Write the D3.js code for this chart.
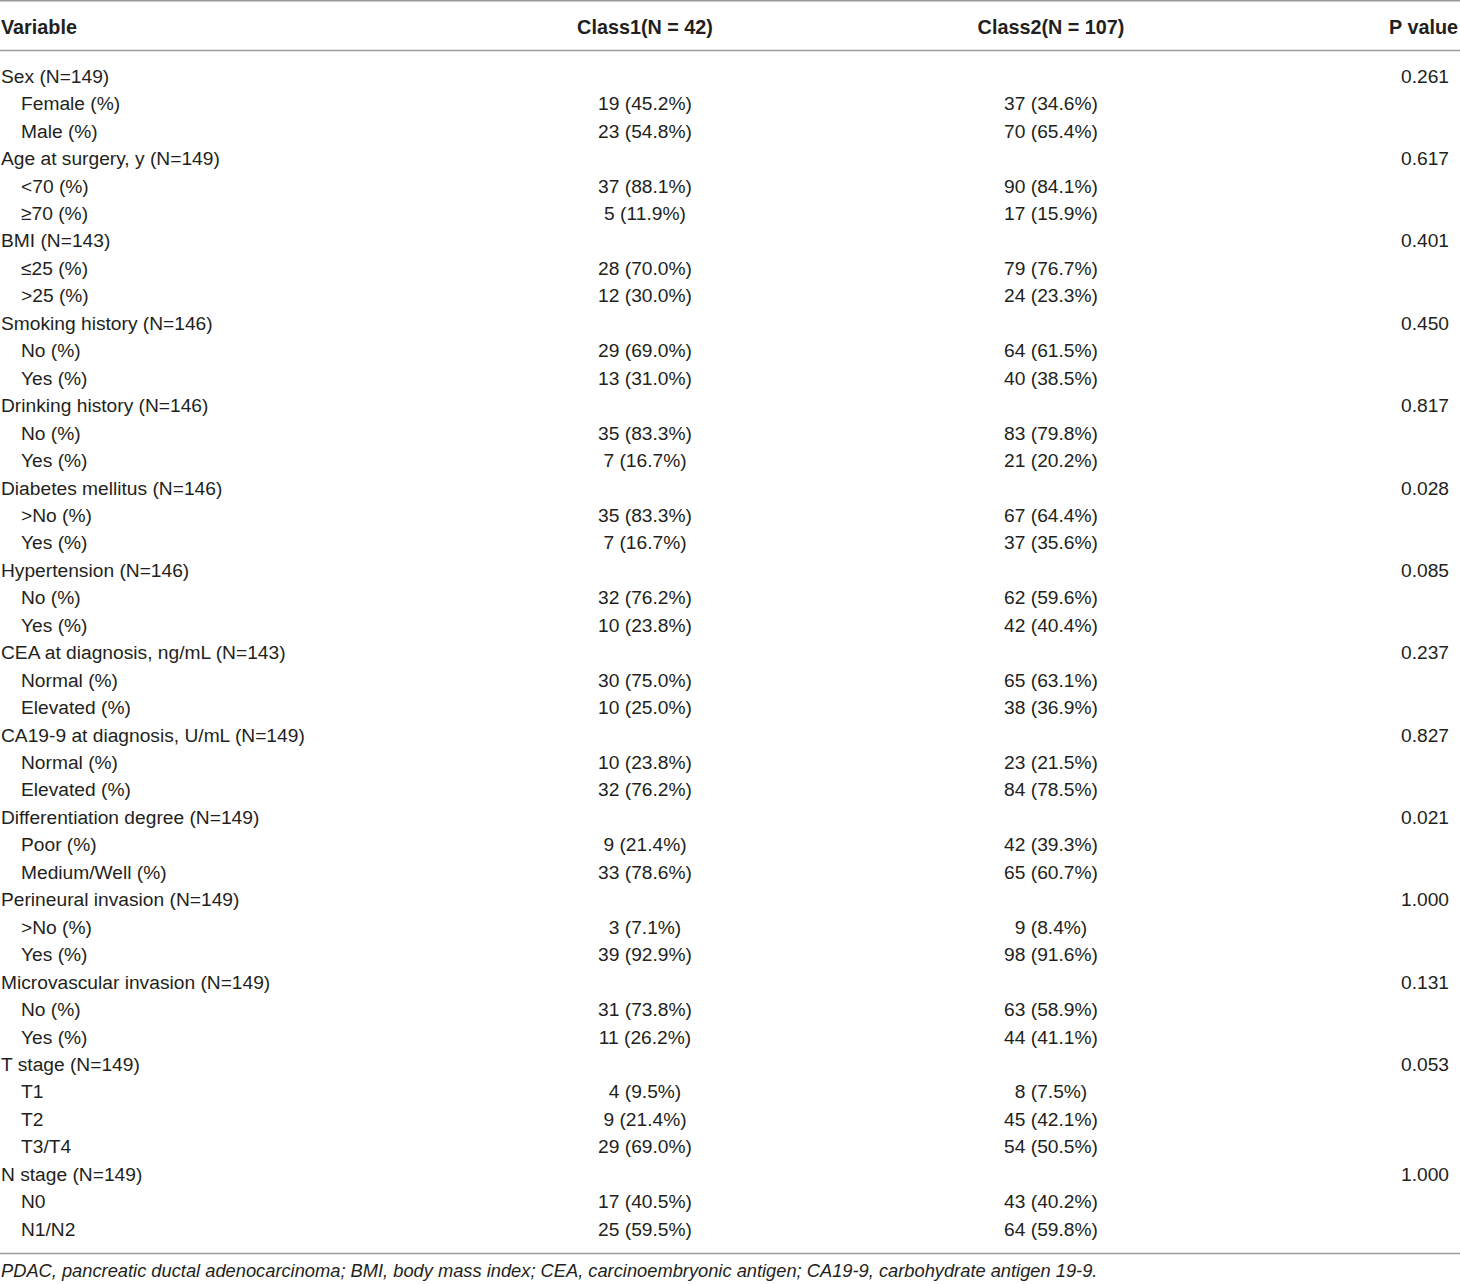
<!DOCTYPE html>
<html>
<head>
<meta charset="utf-8">
<script src="https://d3js.org/d3.v7.min.js"></script>
<style>
  html, body { margin: 0; padding: 0; background: #fff; }
  svg { display: block; font-family: "Liberation Sans", Arial, sans-serif; }
</style>
</head>
<body>
<div id="table"></div>
<script>
// Table data
const headers = ['Variable', 'Class1(N = 42)', 'Class2(N = 107)', 'P value'];

const rowLabels = [
    'Sex (N=149)', 'Female (%)', 'Male (%)',
    'Age at surgery, y (N=149)', '<70 (%)', '≥70 (%)',
    'BMI (N=143)', '≤25 (%)', '>25 (%)',
    'Smoking history (N=146)', 'No (%)', 'Yes (%)',
    'Drinking history (N=146)', 'No (%)', 'Yes (%)',
    'Diabetes mellitus (N=146)', '>No (%)', 'Yes (%)',
    'Hypertension (N=146)', 'No (%)', 'Yes (%)',
    'CEA at diagnosis, ng/mL (N=143)', 'Normal (%)', 'Elevated (%)',
    'CA19-9 at diagnosis, U/mL (N=149)', 'Normal (%)', 'Elevated (%)',
    'Differentiation degree (N=149)', 'Poor (%)', 'Medium/Well (%)',
    'Perineural invasion (N=149)', '>No (%)', 'Yes (%)',
    'Microvascular invasion (N=149)', 'No (%)', 'Yes (%)',
    'T stage (N=149)', 'T1', 'T2', 'T3/T4',
    'N stage (N=149)', 'N0', 'N1/N2'
];

const class1 = [
    '', '19 (45.2%)', '23 (54.8%)',
    '', '37 (88.1%)', '5 (11.9%)',
    '', '28 (70.0%)', '12 (30.0%)',
    '', '29 (69.0%)', '13 (31.0%)',
    '', '35 (83.3%)', '7 (16.7%)',
    '', '35 (83.3%)', '7 (16.7%)',
    '', '32 (76.2%)', '10 (23.8%)',
    '', '30 (75.0%)', '10 (25.0%)',
    '', '10 (23.8%)', '32 (76.2%)',
    '', '9 (21.4%)', '33 (78.6%)',
    '', '3 (7.1%)', '39 (92.9%)',
    '', '31 (73.8%)', '11 (26.2%)',
    '', '4 (9.5%)', '9 (21.4%)', '29 (69.0%)',
    '', '17 (40.5%)', '25 (59.5%)'
];

const class2 = [
    '', '37 (34.6%)', '70 (65.4%)',
    '', '90 (84.1%)', '17 (15.9%)',
    '', '79 (76.7%)', '24 (23.3%)',
    '', '64 (61.5%)', '40 (38.5%)',
    '', '83 (79.8%)', '21 (20.2%)',
    '', '67 (64.4%)', '37 (35.6%)',
    '', '62 (59.6%)', '42 (40.4%)',
    '', '65 (63.1%)', '38 (36.9%)',
    '', '23 (21.5%)', '84 (78.5%)',
    '', '42 (39.3%)', '65 (60.7%)',
    '', '9 (8.4%)', '98 (91.6%)',
    '', '63 (58.9%)', '44 (41.1%)',
    '', '8 (7.5%)', '45 (42.1%)', '54 (50.5%)',
    '', '43 (40.2%)', '64 (59.8%)'
];

const pValues = [
    '0.261', '', '',
    '0.617', '', '',
    '0.401', '', '',
    '0.450', '', '',
    '0.817', '', '',
    '0.028', '', '',
    '0.085', '', '',
    '0.237', '', '',
    '0.827', '', '',
    '0.021', '', '',
    '1.000', '', '',
    '0.131', '', '',
    '0.053', '', '', '',
    '1.000', '', ''
];

const footnote = 'PDAC, pancreatic ductal adenocarcinoma; BMI, body mass index; CEA, carcinoembryonic antigen; CA19-9, carbohydrate antigen 19-9.';

// Layout
const W = 1460, H = 1284;
const TEXT = '#231f20', RULE = '#9a9a9a';
const COL = { label: 1, indent: 21, class1: 645, class2: 1051, p: 1449, pHead: 1458 };

const svg = d3.select('#table').append('svg')
    .attr('width', W)
    .attr('height', H);

const y = d3.scaleBand()
    .domain(d3.range(rowLabels.length))
    .range([62.3, 62.3 + rowLabels.length * 27.45]);

// Rules
[0.7, 50.5, 1253.5].forEach(ry => {
    svg.append('line')
        .attr('x1', 0).attr('x2', W)
        .attr('y1', ry).attr('y2', ry)
        .attr('stroke', RULE)
        .attr('stroke-width', 1.4);
});

// Header
const headX = [COL.label, COL.class1, COL.class2, COL.pHead];
const headAnchor = ['start', 'middle', 'middle', 'end'];
svg.append('g').selectAll('text')
    .data(headers)
    .enter()
    .append('text')
    .attr('x', (d, i) => headX[i])
    .attr('y', 27)
    .attr('dy', '0.35em')
    .attr('text-anchor', (d, i) => headAnchor[i])
    .attr('font-weight', 'bold')
    .attr('font-size', '19.8px')
    .attr('fill', TEXT)
    .text(d => d);

// Body rows
const rows = svg.append('g').selectAll('g')
    .data(rowLabels.map((label, i) => ({ label, c1: class1[i], c2: class2[i], p: pValues[i], i })))
    .enter()
    .append('g')
    .attr('transform', d => `translate(0,${y(d.i) + y.bandwidth() / 2})`)
    .attr('font-size', '19.2px')
    .attr('fill', TEXT);

rows.append('text')
    .attr('x', d => d.c1 ? COL.indent : COL.label)
    .attr('dy', '0.35em')
    .text(d => d.label);

rows.append('text')
    .attr('x', COL.class1)
    .attr('dy', '0.35em')
    .attr('text-anchor', 'middle')
    .text(d => d.c1);

rows.append('text')
    .attr('x', COL.class2)
    .attr('dy', '0.35em')
    .attr('text-anchor', 'middle')
    .text(d => d.c2);

rows.append('text')
    .attr('x', COL.p)
    .attr('dy', '0.35em')
    .attr('text-anchor', 'end')
    .text(d => d.p);

// Footnote
svg.append('text')
    .attr('x', 1)
    .attr('y', 1271)
    .attr('dy', '0.35em')
    .attr('font-style', 'italic')
    .attr('font-size', '18.3px')
    .attr('fill', TEXT)
    .text(footnote);
</script>
</body>
</html>
